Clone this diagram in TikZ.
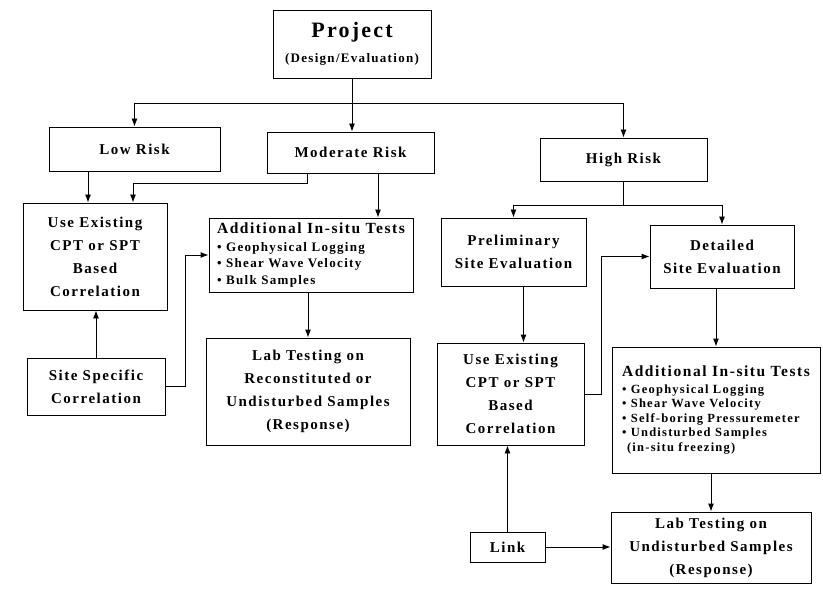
\documentclass[tikz,border=0pt]{standalone}
\usepackage{fontspec}
\setmainfont{Liberation Serif}[LetterSpace=10]
\usetikzlibrary{arrows.meta}

\begin{document}
\begin{tikzpicture}[x=1pt, y=-1pt,
    box/.style={draw, line width=0.9pt, inner sep=0pt, align=center,
        font=\bfseries\fontsize{15}{23}\selectfont},
    listbox/.style={box, align=left, font=\bfseries\fontsize{13}{16.5}\selectfont},
    arr/.style={-{Latex[length=8pt,width=6pt]}, line width=0.9pt},
    line/.style={line width=0.9pt}]
    \useasboundingbox (0, 0) rectangle (823, 591);

    % top of the tree
    \node[box, minimum width=158, minimum height=68] (proj) at (352, 44)
        {\fontsize{22}{26}\selectfont Project\\[2pt]
         \fontsize{13}{16}\selectfont (Design/Evaluation)};

    \node[box, minimum width=171, minimum height=44] (low) at (134.5, 149) {Low Risk};
    \node[box, minimum width=167, minimum height=41] (mod) at (350.5, 152.5) {Moderate Risk};
    \node[box, minimum width=167, minimum height=43] (high) at (623.5, 159.5) {High Risk};

    % low / moderate risk branch
    \node[box, minimum width=144, minimum height=107] (useL) at (95, 256.5)
        {Use Existing\\CPT or SPT\\Based\\Correlation};
    \node[listbox, minimum width=204, minimum height=74] (addL) at (311, 255)
        {{\fontsize{15.5}{16.5}\selectfont Additional In-situ Tests}\\[1pt]
         \textbullet{} Geophysical Logging\\
         \textbullet{} Shear Wave Velocity\\
         \textbullet{} Bulk Samples};
    \node[box, minimum width=204, minimum height=107] (labL) at (308, 391.5)
        {Lab Testing on\\Reconstituted or\\Undisturbed Samples\\(Response)};
    \node[box, minimum width=138, minimum height=57] (siteL) at (96, 386.5)
        {Site Specific\\Correlation};

    % high risk branch
    \node[box, minimum width=145, minimum height=68] (prel) at (513.5, 252)
        {Preliminary\\Site Evaluation};
    \node[box, minimum width=144, minimum height=63] (det) at (722, 256.5)
        {Detailed\\Site Evaluation};
    \node[box, minimum width=147, minimum height=102] (useR) at (510.5, 394)
        {Use Existing\\CPT or SPT\\Based\\Correlation};
    \node[listbox, minimum width=208, minimum height=126, font=\bfseries\fontsize{12.5}{14.5}\selectfont]
        (addR) at (716, 410)
        {{\fontsize{15.5}{16.5}\selectfont Additional In-situ Tests}\\[2pt]
         \textbullet{} Geophysical Logging\\
         \textbullet{} Shear Wave Velocity\\
         \textbullet{} Self-boring Pressuremeter\\
         \textbullet{} Undisturbed Samples\\
         \hspace{0.4em}(in-situ freezing)};
    \node[box, minimum width=200, minimum height=71] (labR) at (711, 547.5)
        {Lab Testing on\\Undisturbed Samples\\(Response)};
    \node[box, minimum width=75, minimum height=30] (link) at (507.5, 547) {Link};

    \coordinate (split1) at (352, 103);
    \coordinate (split2) at (623.5, 205);
    \coordinate (modturn) at (133, 183);

    % connectors
    \draw[arr] (proj.south) -- (proj.south |- mod.north);
    \draw[arr] (split1) -| (low.north);
    \draw[arr] (split1) -| (high.north);

    \draw[arr] ([xshift=-7]useL.north |- low.south) -- ([xshift=-7]useL.north);
    \draw[arr] ([xshift=-43.5]mod.south) |- (modturn) -- (modturn |- useL.north);
    \draw[arr] ([xshift=27.5]mod.south) -- ([xshift=27.5]mod.south |- addL.north);
    \draw[arr] (addL.south -| labL.north) -- (labL.north);
    \draw[arr] (siteL.north) -- (siteL.north |- useL.south);
    \draw[arr] (siteL.east) -- ++(20, 0) |- (addL.west);

    \draw[line] (high.south) -- (split2);
    \draw[arr] (split2) -| (prel.north);
    \draw[arr] (split2) -| (det.north);
    \draw[arr] ([xshift=10]prel.south) -- ([xshift=10]prel.south |- useR.north);
    \draw[arr] (useR.east) -- ++(17, 0) |- (det.west);
    \draw[arr] (det.south -| addR.north) -- (addR.north);
    \draw[arr] (addR.south -| labR.north) -- (labR.north);
    \draw[arr] (link.north) -- (link.north |- useR.south);
    \draw[arr] (link.east) -- (link.east -| labR.west);
\end{tikzpicture}
\end{document}
